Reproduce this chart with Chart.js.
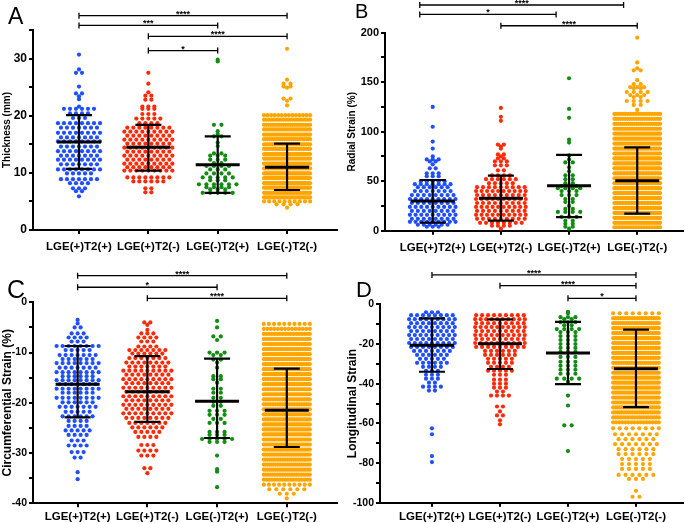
<!DOCTYPE html>
<html>
<head>
<meta charset="utf-8">
<script src="https://cdn.jsdelivr.net/npm/chart.js@4.4.0/dist/chart.umd.min.js"></script>
<style>
  body { margin: 0; background: #fff; width: 685px; height: 523px; position: relative; overflow: hidden; font-family: 'Liberation Sans', Arial, sans-serif; }
  .panel { position: absolute; }
  .letter { position: absolute; color: #000; line-height: 1; }
</style>
</head>
<body>
<div class="panel" style="left:0;top:0;width:340px;height:260px"><canvas id="thicknessChart"></canvas></div>
<div class="panel" style="left:340px;top:0;width:345px;height:260px"><canvas id="radialChart"></canvas></div>
<div class="panel" style="left:0;top:260px;width:340px;height:263px"><canvas id="circChart"></canvas></div>
<div class="panel" style="left:340px;top:260px;width:345px;height:263px"><canvas id="longChart"></canvas></div>
<div class="letter" style="left:8px;top:5px;font-size:23px">A</div>
<div class="letter" style="left:355px;top:1px;font-size:20px">B</div>
<div class="letter" style="left:7px;top:277px;font-size:25px">C</div>
<div class="letter" style="left:356px;top:279px;font-size:22px">D</div>
<script>
// nhóm bệnh nhân
const groups = ['LGE(+)T2(+)', 'LGE(+)T2(-)', 'LGE(-)T2(+)', 'LGE(-)T2(-)'];
const groupColors = ['#1f4fff', '#ff2a0a', '#128c12', '#ffa500'];

// A - Thickness (mm): hàng [giá trị, số điểm]
const thickG1 = [[30.7,1],[28.1,1],[27.5,2],[25.1,1],[23.9,2],[23.4,1],[22.9,1],[21.6,1],[21.2,6],[20.4,4],[19.6,3],[18.7,8],[17.9,7],[17.0,8],[16.2,7],[15.5,8],[14.6,7],[13.8,8],[13.0,7],[12.3,8],[11.5,7],[10.6,8],[9.9,5],[8.9,7],[8.2,4],[7.3,3],[6.8,2],[5.9,1]];
const thickG2 = [[27.5,1],[25.6,1],[24.1,1],[23.5,2],[22.8,2],[21.6,3],[21.2,3],[20.3,3],[19.5,5],[18.7,4],[17.9,8],[17.2,9],[16.5,8],[15.8,9],[15.1,8],[14.4,9],[13.7,8],[13.0,9],[12.3,8],[11.6,9],[11.0,8],[10.4,9],[9.2,8],[8.5,6],[7.3,2],[6.6,2]];
const thickG3 = [[29.8,1],[29.5,1],[18.4,2],[17.3,1],[16.8,1],[16.4,2],[15.3,1],[14.7,1],[13.4,2],[13.0,3],[12.3,3],[11.7,2],[11.2,4],[10.6,3],[9.9,4],[9.2,5],[8.7,3],[8.0,6],[7.5,4],[7.1,3],[6.5,5]];
const thickG4 = [[31.7,1],[26.3,1],[25.6,2],[25.1,2],[24.9,1],[23.0,2],[22.6,1],[21.8,1],[20.1,14],[19.3,20],[18.4,22],[17.6,24],[16.7,26],[15.9,26],[15.0,28],[14.2,28],[13.3,30],[12.5,30],[11.6,32],[10.8,32],[9.9,34],[9.1,34],[8.2,34],[7.4,32],[6.5,30],[5.7,24],[5.0,10],[4.5,4],[3.9,1]];
const thickMean = [15.4, 14.5, 11.4, 11.0];
const thickHi = [20.1, 18.4, 16.4, 15.1];
const thickLo = [10.7, 10.4, 6.5, 7.0];
const thickBrackets = [[0, 3, 37.5, '****'], [0, 2, 35.8, '***'], [1, 3, 33.9, '****'], [1, 2, 31.4, '*']];
const thickTicks = [0, 5, 10, 15, 20, 25, 30, 35];
const thickLabels = ['0', '', '10', '', '20', '', '30', ''];

// B - Radial Strain (%)
const radialG1 = [[125,1],[105,1],[90,1],[83,1],[75,1],[72,3],[70,2],[67,1],[63,2],[58,3],[55,3],[50,5],[47,7],[44,6],[40,7],[36,8],[32,9],[28,8],[24,9],[20,8],[16,9],[12,8],[9,9],[6,6],[4,3]];
const radialG2 = [[124,1],[115,1],[111,1],[87,2],[85,1],[83,1],[77,2],[75,1],[73,2],[70,3],[66,3],[61,2],[56,4],[52,6],[48,5],[44,9],[40,10],[36,9],[32,10],[28,9],[24,10],[20,9],[16,10],[12,9],[8,8],[5,4],[2,1]];
const radialG3 = [[154,1],[123,1],[114,1],[92,1],[89,1],[76,1],[72,1],[69,2],[64,1],[60,1],[56,2],[52,2],[48,2],[45,3],[43,4],[40,3],[36,3],[32,2],[29,2],[25,1],[22,2],[19,4],[14,3],[10,2],[7,2],[4,2],[2,1]];
const radialG4 = [[195,1],[170,1],[164,1],[162,2],[152,1],[148,2],[145,3],[144,2],[140,4],[137,3],[135,2],[131,4],[127,2],[122,1],[118,18],[113,22],[108,24],[103,26],[98,28],[93,28],[88,30],[83,30],[78,30],[73,32],[68,32],[63,32],[58,32],[53,32],[48,32],[43,32],[38,32],[33,30],[28,30],[23,30],[18,30],[13,28],[8,26],[3.5,18]];
const radialMean = [30.0, 32.7, 45.5, 50.5];
const radialHi = [51.2, 55.6, 76.5, 84.2];
const radialLo = [8.1, 10.1, 13.8, 17.2];
const radialBrackets = [[-0.19, 2.8, 228, '****'], [-0.19, 1.81, 218.5, '*'], [1, 3, 207, '****']];
const radialTicks = [0, 25, 50, 75, 100, 125, 150, 175, 200];
const radialLabels = ['0', '', '50', '', '100', '', '150', '', '200'];

// C - Circumferential Strain (%)
const circG1 = [[-3.5,1],[-4.2,1],[-5.0,2],[-6.2,3],[-7.0,4],[-7.8,3],[-8.7,8],[-9.5,5],[-10.5,7],[-11.3,6],[-12.1,8],[-13.0,7],[-13.9,8],[-14.7,6],[-15.5,8],[-16.3,7],[-17.2,8],[-18.0,6],[-19.0,8],[-19.9,6],[-20.8,7],[-21.8,5],[-22.7,6],[-23.6,4],[-24.6,4],[-25.5,5],[-26.4,4],[-27.5,3],[-28.5,4],[-29.8,3],[-30.9,2],[-33.8,1],[-35.2,1]];
const circG2 = [[-4.0,2],[-4.5,1],[-5.5,1],[-6.2,3],[-7.0,4],[-7.8,3],[-8.8,4],[-9.5,7],[-10.2,6],[-11.1,7],[-12.0,8],[-12.8,7],[-13.6,9],[-14.4,8],[-15.3,9],[-16.1,8],[-17.0,9],[-17.8,8],[-18.7,9],[-19.5,8],[-20.4,9],[-21.2,8],[-22.1,9],[-23.0,8],[-24.0,7],[-24.9,6],[-25.8,5],[-26.8,4],[-28.4,3],[-29.5,4],[-30.5,3],[-33.0,2],[-34.0,1]];
const circG3 = [[-3.7,1],[-5.0,1],[-6.8,2],[-7.5,1],[-10.0,3],[-10.5,2],[-11.4,2],[-12.0,1],[-13.0,1],[-14.7,2],[-15.3,2],[-16.0,1],[-17.2,2],[-18.0,2],[-19.0,2],[-19.8,2],[-20.6,2],[-21.6,3],[-22.4,3],[-23.2,2],[-24.0,3],[-25.8,3],[-26.4,3],[-27.2,5],[-27.8,3],[-30.5,1],[-33.2,1],[-33.7,1],[-36.8,1]];
const circG4 = [[-4.3,10],[-5.3,14],[-6.3,18],[-7.3,22],[-8.3,24],[-9.3,26],[-10.3,28],[-11.3,28],[-12.3,28],[-13.3,28],[-14.3,28],[-15.3,28],[-16.3,28],[-17.3,28],[-18.3,28],[-19.3,28],[-20.3,28],[-21.3,28],[-22.3,28],[-23.3,28],[-24.3,28],[-25.3,28],[-26.3,28],[-27.3,28],[-28.3,28],[-29.3,26],[-30.3,26],[-31.3,26],[-32.3,24],[-33.3,24],[-34.3,22],[-35.3,18],[-36.3,10],[-37.2,6],[-38.1,3],[-39.0,1]];
const circMean = [-16.3, -17.8, -19.7, -21.5];
const circHi = [-8.7, -10.7, -11.2, -13.2];
const circLo = [-22.9, -23.8, -27.0, -28.8];
const circBrackets = [[0, 3, 5.3, '****'], [0, 2, 3.0, '*'], [1, 3, 0.8, '****']];
const circTicks = [-40, -35, -30, -25, -20, -15, -10, -5, 0];
const circLabels = ['-40', '', '-30', '', '-20', '', '-10', '', '0'];

// D - Longitudinal Strain
const longG1 = [[-4,3],[-5.5,8],[-7.5,9],[-9.5,8],[-11.5,9],[-13.5,8],[-15.5,9],[-17.5,8],[-19.5,9],[-21.5,8],[-23.5,7],[-25.5,6],[-27.5,5],[-29.5,6],[-31.5,4],[-33.5,3],[-35.5,3],[-37.5,3],[-39.5,2],[-41.5,4],[-43.5,2],[-62.5,1],[-65.5,1],[-76.5,1],[-79.5,1]];
const longG2 = [[-5.5,9],[-7.5,10],[-9.5,9],[-11.5,10],[-13.5,9],[-15.5,10],[-17.5,9],[-19.5,10],[-21.5,9],[-23.5,6],[-25.5,6],[-27.5,5],[-29.5,5],[-31.5,4],[-33.5,5],[-35.5,3],[-38,3],[-40,3],[-42,3],[-44,2],[-46,4],[-51.5,2],[-54,1],[-56,2],[-58.5,1],[-60.5,1]];
const longG3 = [[-3.8,1],[-4.5,1],[-6.5,3],[-7.5,2],[-9,3],[-10.5,2],[-12.5,4],[-14,3],[-16,3],[-18,3],[-20,3],[-22,3],[-24,3],[-26.5,3],[-29,3],[-31,3],[-33,3],[-35,3],[-37.5,4],[-39,1],[-46,1],[-51,1],[-61,2],[-74,1]];
const longG4 = [[-4.5,8],[-7,20],[-9.5,26],[-12,28],[-14.5,28],[-17,28],[-19.5,28],[-22,28],[-24.5,28],[-27,28],[-29.5,28],[-32,28],[-34.5,28],[-37,28],[-39.5,26],[-42,26],[-44.5,26],[-47,24],[-49.5,24],[-52,22],[-54.5,22],[-57,20],[-59.5,16],[-62.5,8],[-65.5,7],[-68,6],[-70.5,7],[-73,6],[-75.5,6],[-78,5],[-80.5,5],[-83,5],[-86,6],[-88,3],[-94,1],[-97,2]];
const longMean = [-20.7, -19.9, -24.6, -32.5];
const longHi = [-7.1, -7.6, -8.9, -12.8];
const longLo = [-34.0, -32.6, -40.2, -51.8];
const longBrackets = [[0, 3, 14.8, '****'], [1, 3, 9.4, '****'], [2, 3, 3.0, '*']];
const longTicks = [-100, -90, -80, -70, -60, -50, -40, -30, -20, -10, 0];
const longLabels = ['-100', '', '-80', '', '-60', '', '-40', '', '-20', '', '0'];

Chart.defaults.font.family = "'Liberation Sans', Arial, sans-serif";
Chart.defaults.color = '#000';

// xếp điểm theo hàng (beeswarm)
function swarm(rows, center, pitchPx, halfPx, unitPx) {
    const pts = [];
    rows.forEach(([v, n]) => {
        const pitch = n > 1 ? Math.min(pitchPx, 2 * halfPx / (n - 1)) : 0;
        for (let i = 0; i < n; i++) {
            pts.push({ x: center + (i - (n - 1) / 2) * pitch / unitPx, y: v });
        }
    });
    return pts;
}

// vẽ mean ± SD và các dấu so sánh
const meanSdPlugin = {
    id: 'meanSd',
    afterDatasetsDraw(chart, args, o) {
        const { ctx, scales: { x, y } } = chart;
        ctx.save();
        ctx.strokeStyle = '#000';
        ctx.lineCap = 'butt';
        o.mean.forEach((m, i) => {
            const cx = x.getPixelForValue(i);
            const hy = y.getPixelForValue(o.hi[i]);
            const ly = y.getPixelForValue(o.lo[i]);
            ctx.lineWidth = 2.2;
            ctx.beginPath();
            ctx.moveTo(cx, hy); ctx.lineTo(cx, ly);
            ctx.moveTo(cx - 13, hy); ctx.lineTo(cx + 13, hy);
            ctx.moveTo(cx - 13, ly); ctx.lineTo(cx + 13, ly);
            ctx.stroke();
            const my = y.getPixelForValue(m);
            ctx.lineWidth = 3;
            ctx.beginPath();
            ctx.moveTo(cx - 22, my); ctx.lineTo(cx + 22, my);
            ctx.stroke();
        });
        ctx.lineWidth = 1.3;
        ctx.fillStyle = '#000';
        ctx.font = "bold 9px 'Liberation Sans', Arial, sans-serif";
        ctx.textAlign = 'center';
        ctx.textBaseline = 'alphabetic';
        o.brackets.forEach(([a, b, v, label]) => {
            const x1 = x.getPixelForValue(a);
            const x2 = x.getPixelForValue(b);
            const py = y.getPixelForValue(v);
            ctx.beginPath();
            ctx.moveTo(x1, py); ctx.lineTo(x2, py);
            ctx.moveTo(x1, py - 3); ctx.lineTo(x1, py + 3);
            ctx.moveTo(x2, py - 3); ctx.lineTo(x2, py + 3);
            ctx.stroke();
            ctx.fillText(label, (x1 + x2) / 2, py + 1);
        });
        ctx.restore();
    }
};

function buildPanel(canvasId, p) {
    const datasets = p.rows.map((rows, g) => ({
        data: swarm(rows, g, [6, 6, 7.5, 7][g], [23, 25, 22, 23][g], p.unitPx),
        backgroundColor: groupColors[g],
        borderColor: groupColors[g],
        borderWidth: 0,
        pointRadius: 2.1,
        pointHoverRadius: 2.1,
        clip: false
    }));
    return new Chart(document.getElementById(canvasId), {
        type: 'scatter',
        data: { datasets },
        options: {
            responsive: true,
            maintainAspectRatio: false,
            animation: false,
            events: [],
            layout: { padding: { top: p.top, right: p.right, left: 0, bottom: 0 } },
            plugins: {
                legend: { display: false },
                tooltip: { enabled: false },
                meanSd: { mean: p.mean, hi: p.hi, lo: p.lo, brackets: p.brackets }
            },
            scales: {
                x: {
                    type: 'linear',
                    min: p.xMin,
                    max: p.xMax,
                    afterBuildTicks: s => { s.ticks = groups.map((g, i) => ({ value: i })); },
                    afterFit: s => { s.height = p.xHeight; },
                    ticks: {
                        callback: (v, i) => groups[i],
                        font: { size: p.xFont, weight: 'bold' },
                        color: '#000',
                        padding: p.xPad,
                        maxRotation: 0,
                        autoSkip: false
                    },
                    grid: { display: true, drawOnChartArea: false, drawTicks: true, tickLength: 4, color: '#000', lineWidth: 2 },
                    border: { display: true, color: '#000', width: 2 }
                },
                y: {
                    type: 'linear',
                    min: p.ticks[0],
                    max: p.ticks[p.ticks.length - 1],
                    afterBuildTicks: s => { s.ticks = p.ticks.map(v => ({ value: v })); },
                    afterFit: s => { s.width = p.yWidth; },
                    ticks: {
                        callback: (v, i) => p.labels[i],
                        font: { size: p.yFont, weight: 'bold' },
                        color: '#000',
                        padding: 2,
                        autoSkip: false
                    },
                    title: {
                        display: true,
                        text: p.title,
                        font: { size: p.titleFont, weight: 'bold' },
                        color: '#000',
                        padding: { top: p.titlePad, bottom: 0 }
                    },
                    grid: { display: true, drawOnChartArea: false, drawTicks: true, tickLength: 4, color: '#000', lineWidth: 2 },
                    border: { display: true, color: '#000', width: 2 }
                }
            }
        },
        plugins: [meanSdPlugin]
    });
}

buildPanel('thicknessChart', {
    rows: [thickG1, thickG2, thickG3, thickG4],
    mean: thickMean, hi: thickHi, lo: thickLo, brackets: thickBrackets,
    ticks: thickTicks, labels: thickLabels, title: 'Thickness (mm)',
    xMin: -0.663, xMax: 3.72, unitPx: 69.3,
    top: 30, right: 3, yWidth: 33, xHeight: 30,
    xFont: 11.5, xPad: 6, yFont: 12, titleFont: 10, titlePad: 1
});

buildPanel('radialChart', {
    rows: [radialG1, radialG2, radialG3, radialG4],
    mean: radialMean, hi: radialHi, lo: radialLo, brackets: radialBrackets,
    ticks: radialTicks, labels: radialLabels, title: 'Radial Strain (%)',
    xMin: -0.7, xMax: 3.67, unitPx: 68.7,
    top: 32.7, right: 0, yWidth: 45, xHeight: 29.3,
    xFont: 11.5, xPad: 6, yFont: 11, titleFont: 10, titlePad: 6
});

buildPanel('circChart', {
    rows: [circG1, circG2, circG3, circG4],
    mean: circMean, hi: circHi, lo: circLo, brackets: circBrackets,
    ticks: circTicks, labels: circLabels, title: 'Circumferential Strain (%)',
    xMin: -0.64, xMax: 3.72, unitPx: 69.7,
    top: 42.3, right: 3, yWidth: 33, xHeight: 19.7,
    xFont: 11.5, xPad: 3, yFont: 10.5, titleFont: 12, titlePad: 0
});

buildPanel('longChart', {
    rows: [longG1, longG2, longG3, longG4],
    mean: longMean, hi: longHi, lo: longLo, brackets: longBrackets,
    ticks: longTicks, labels: longLabels, title: 'Longitudinal Strain',
    xMin: -0.764, xMax: 3.69, unitPx: 68.5,
    top: 44.3, right: 0, yWidth: 40, xHeight: 20.3,
    xFont: 11.5, xPad: 3, yFont: 10.5, titleFont: 12, titlePad: 5
});
</script>
</body>
</html>
